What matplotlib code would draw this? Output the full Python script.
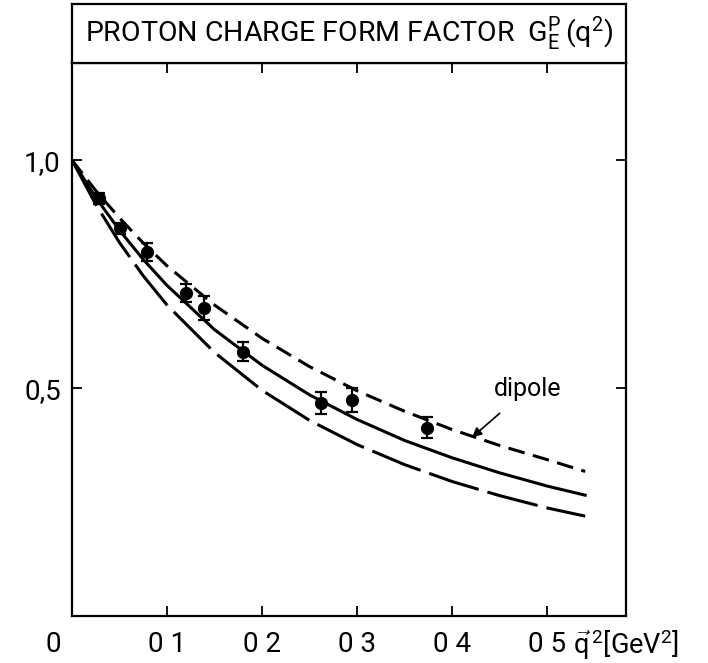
import matplotlib
matplotlib.use("Agg")
import matplotlib.pyplot as plt

q2_data = [0.028, 0.051, 0.079, 0.120, 0.139, 0.180, 0.262, 0.295, 0.374]
ge_data = [0.916, 0.850, 0.799, 0.708, 0.675, 0.580, 0.467, 0.474, 0.413]
ge_err = [0.012, 0.012, 0.020, 0.020, 0.026, 0.020, 0.024, 0.027, 0.023]

q2_curve = [0.0, 0.025, 0.05, 0.075, 0.10, 0.15, 0.20, 0.25, 0.30, 0.35, 0.40, 0.45, 0.50, 0.54]
dipole = [1.0, 0.933, 0.873, 0.818, 0.768, 0.682, 0.609, 0.547, 0.494, 0.449, 0.409, 0.374, 0.343, 0.317]
solid = [1.0, 0.918, 0.846, 0.782, 0.725, 0.628, 0.550, 0.485, 0.431, 0.385, 0.347, 0.314, 0.285, 0.265]
longdash = [1.0, 0.903, 0.819, 0.746, 0.682, 0.578, 0.495, 0.429, 0.376, 0.332, 0.295, 0.264, 0.237, 0.219]

x_ticks = [0.1, 0.2, 0.3, 0.4, 0.5]
x_ticklabels = ["0 1", "0 2", "0 3", "0 4", "0 5"]
y_ticks = [0.5, 1.0]
y_ticklabels = ["0,5", "1,0"]

plt.rcParams["font.family"] = ["Roboto", "DejaVu Sans"]
plt.rcParams["mathtext.fontset"] = "custom"
plt.rcParams["mathtext.rm"] = "Roboto"
plt.rcParams["mathtext.it"] = "Roboto"
plt.rcParams["mathtext.bf"] = "Roboto"

fig = plt.figure(figsize=(7.08, 6.63), dpi=100)
ax = fig.add_axes([0.1017, 0.0709, 0.7825, 0.8341])
tax = fig.add_axes([0.1017, 0.905, 0.7825, 0.089])

lw = 2.2
ax.plot(q2_curve, dipole, color="black", lw=lw, dashes=(5.5, 2.8))
ax.plot(q2_curve, solid, color="black", lw=lw)
ax.plot(q2_curve, longdash, color="black", lw=lw, dashes=(17, 3))
ax.errorbar(q2_data, ge_data, yerr=ge_err, fmt="o", color="black",
            ms=8.5, elinewidth=1.6, capsize=4, capthick=1.6)

ax.annotate("dipole", xy=(0.421, 0.392), xytext=(0.479, 0.497),
            ha="center", va="center", fontsize=18,
            arrowprops=dict(arrowstyle="-|>", color="black", lw=1.2,
                            shrinkA=10, shrinkB=0, mutation_scale=14))

ax.set_xlim(0, 0.583)
ax.set_ylim(0, 1.213)
ax.set_xticks(x_ticks)
ax.set_xticklabels(x_ticklabels)
ax.set_yticks(y_ticks)
ax.set_yticklabels(y_ticklabels)
ax.tick_params(direction="in", length=7, width=1.3, labelsize=20,
               top=True, right=True, pad=8)
ax.tick_params(axis="x", pad=11)
for s in ax.spines.values():
    s.set_linewidth(1.6)

# origin label and axis label below the axis
ax.annotate("0", xy=(-0.02, 0), xycoords=("data", "axes fraction"),
            xytext=(0, -11), textcoords="offset points",
            ha="center", va="top", fontsize=20, annotation_clip=False)
ax.annotate(r"$\vec{\mathrm{q}}^{\,2}$[GeV$^2$]", xy=(0.527, 0),
            xycoords=("data", "axes fraction"),
            xytext=(0, -8), textcoords="offset points",
            ha="left", va="top", fontsize=19.5, annotation_clip=False)

tax.set_xticks([])
tax.set_yticks([])
for s in tax.spines.values():
    s.set_linewidth(1.6)
tax.text(0.5, 0.5,
         r"PROTON CHARGE FORM FACTOR  $\mathrm{G}_{\mathrm{E}}^{\mathrm{P}}\,(\mathrm{q}^2)$",
         ha="center", va="center", fontsize=20.5, transform=tax.transAxes)

fig.savefig("out.png", dpi=100)
